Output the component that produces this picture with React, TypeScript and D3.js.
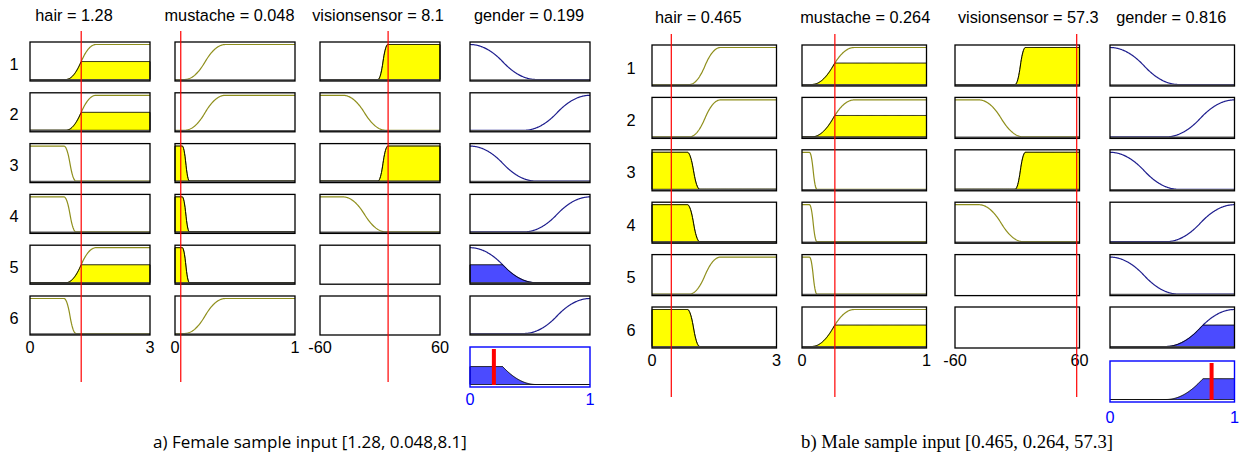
import * as d3 from "d3";

// ---- data ----
const inputNames = ["hair", "mustache", "visionsensor"];
const inputDomains: [number, number][] = [[0, 3], [0, 1], [-60, 60]];
const inputTickLabels = [["0", "3"], ["0", "1"], ["-60", "60"]];
const outputName = "gender";
const outputDomain: [number, number] = [0, 1];
const outputTickLabels = ["0", "1"];

// membership functions: [shape, a, b]  (s = rising, z = falling)
type MF = [string, number, number];
const hairMFs: Record<string, MF> = { long: ["s", 0.9, 1.65], short: ["z", 0.85, 1.15] };
const mustacheMFs: Record<string, MF> = { yes: ["s", 0.08, 0.42], no: ["z", 0.06, 0.12] };
const visionMFs: Record<string, MF> = { high: ["s", -2, 8], low: ["z", -37, 6] };
const genderMFs: Record<string, MF> = { female: ["z", 0, 0.55], male: ["s", 0.45, 1.0] };

const ruleLabels = ["1", "2", "3", "4", "5", "6"];
const ruleHair = ["long", "long", "short", "short", "long", "short"];
const ruleMustache = ["yes", "yes", "no", "no", "no", "yes"];
const ruleVision = ["high", "low", "high", "low", null, null];
const ruleGender = ["female", "male", "female", "male", "female", "male"];

const sampleInputs = [
  [1.28, 0.048, 8.1],
  [0.465, 0.264, 57.3],
];
const sampleOutputs = [0.199, 0.816];
const captions = [
  "a) Female sample input [1.28, 0.048,8.1]",
  "b) Male sample input [0.465, 0.264, 57.3]",
];

// ---- layout ----
const panels = [
  {
    colX: [30, 175, 320, 470], colW: 120, rowTop: 42, pitch: 50.8, boxH: 39,
    outTop: 347, outH: 40, titleY: 21, titleDx: [-16, -5.5, -2, -1],
    redTop: 31, redBottom: 382, tickY: 353, outTickY: 405, rowLabelX: 14,
    captionX: 310, captionFont: "'Open Sans', sans-serif", captionSize: 17,
  },
  {
    colX: [652, 802, 955, 1110], colW: 124.5, rowTop: 45, pitch: 52.4, boxH: 41,
    outTop: 361, outH: 41, titleY: 23, titleDx: [-16, 1, 11, -1],
    redTop: 34, redBottom: 397, tickY: 366, outTickY: 423, rowLabelX: 631,
    captionX: 957, captionFont: "'Liberation Serif', serif", captionSize: 18.7,
  },
];

const OLIVE = "#8f8f1c";
const NAVY = "#1e1e8e";
const BLUE_FILL = "#4b4bff";
const FONT = "'Liberation Sans', Arial, sans-serif";
const FS = 16.3;

function smf(x: number, a: number, b: number) {
  if (x <= a) return 0;
  if (x >= b) return 1;
  const m = (a + b) / 2;
  if (x <= m) return 2 * ((x - a) / (b - a)) ** 2;
  return 1 - 2 * ((x - b) / (b - a)) ** 2;
}
function evalMF(mf: MF, x: number) {
  const v = smf(x, mf[1], mf[2]);
  return mf[0] === "s" ? v : 1 - v;
}

const ruleInputs = [ruleHair, ruleMustache, ruleVision];
const inputMFs = [hairMFs, mustacheMFs, visionMFs];

function Panel({ p, idx }: { p: (typeof panels)[number]; idx: number }) {
  const inputs = sampleInputs[idx];
  const xScales = [...inputDomains, outputDomain].map((dom, c) =>
    d3.scaleLinear().domain(dom).range([p.colX[c], p.colX[c] + p.colW])
  );
  const samples = (dom: [number, number]) =>
    d3.range(0, 241).map((i) => dom[0] + ((dom[1] - dom[0]) * i) / 240);

  const strengths = ruleLabels.map((_, r) => {
    const degs = inputs
      .map((v, c) => {
        const key = ruleInputs[c][r];
        return key ? evalMF(inputMFs[c][key], v) : null;
      })
      .filter((d) => d !== null) as number[];
    return d3.min(degs) ?? 0;
  });

  const cells: JSX.Element[] = [];
  ruleLabels.forEach((lab, r) => {
    const top = p.rowTop + r * p.pitch;
    const y = d3.scaleLinear().domain([0, 1]).range([top + p.boxH - 1.5, top + 2.5]);
    cells.push(
      <text key={`rl${r}`} x={p.rowLabelX} y={top + p.boxH / 2 + 8} fontSize={FS} textAnchor="middle" fontFamily={FONT}>
        {lab}
      </text>
    );
    // inputs
    for (let c = 0; c < 3; c++) {
      const x = xScales[c];
      const key = ruleInputs[c][r];
      const g: JSX.Element[] = [];
      if (key) {
        const mf = inputMFs[c][key];
        const xs = samples(inputDomains[c]);
        const deg = evalMF(mf, inputs[c]);
        const line = d3.line<number>().x((d) => x(d)).y((d) => y(evalMF(mf, d)));
        g.push(<path key="c" d={line(xs) ?? ""} fill="none" stroke={OLIVE} strokeWidth={1.2} />);
        if (deg > 0.001) {
          const area = d3
            .area<number>()
            .x((d) => x(d))
            .y0(y(0))
            .y1((d) => y(Math.min(evalMF(mf, d), deg)));
          g.push(<path key="f" d={area(xs) ?? ""} fill="#ffff00" stroke="#000" strokeWidth={1} />);
        }
        g.push(<line key="b" x1={x.range()[0]} x2={x.range()[1]} y1={y(0) + 0.5} y2={y(0) + 0.5} stroke="#555" strokeWidth={1.6} />);
      }
      cells.push(
        <g key={`in${r}-${c}`}>
          <rect x={x.range()[0]} y={top} width={p.colW} height={p.boxH} fill="#fff" />
          {g}
          <rect x={x.range()[0]} y={top} width={p.colW} height={p.boxH} fill="none" stroke="#000" strokeWidth={1.3} />
        </g>
      );
    }
    // output
    const x = xScales[3];
    const mf = genderMFs[ruleGender[r]];
    const xs = samples(outputDomain);
    const line = d3.line<number>().x((d) => x(d)).y((d) => y(evalMF(mf, d)));
    const s = strengths[r];
    cells.push(
      <g key={`out${r}`}>
        <rect x={x.range()[0]} y={top} width={p.colW} height={p.boxH} fill="#fff" />
        <path d={line(xs) ?? ""} fill="none" stroke={NAVY} strokeWidth={1.2} />
        {s > 0.001 && (
          <path
            d={d3.area<number>().x((d) => x(d)).y0(y(0)).y1((d) => y(Math.min(evalMF(mf, d), s)))(xs) ?? ""}
            fill={BLUE_FILL}
            stroke="#000"
            strokeWidth={1}
          />
        )}
        <line x1={x.range()[0]} x2={x.range()[1]} y1={y(0) + 0.5} y2={y(0) + 0.5} stroke="#555" strokeWidth={1.6} />
        <rect x={x.range()[0]} y={top} width={p.colW} height={p.boxH} fill="none" stroke="#000" strokeWidth={1.3} />
      </g>
    );
  });

  // aggregated output
  const xo = xScales[3];
  const yo = d3.scaleLinear().domain([0, 1]).range([p.outTop + p.outH - 2.5, p.outTop + 2.5]);
  const xsOut = samples(outputDomain);
  const agg = (v: number) =>
    d3.max(ruleLabels.map((_, r) => Math.min(evalMF(genderMFs[ruleGender[r]], v), strengths[r]))) ?? 0;
  const aggArea = d3.area<number>().x((d) => xo(d)).y0(yo(0)).y1((d) => yo(agg(d)));

  return (
    <g>
      {inputNames.map((n, c) => (
        <text key={n} x={p.colX[c] + p.colW / 2 + p.titleDx[c]} y={p.titleY} fontSize={FS} textAnchor="middle" fontFamily={FONT}>
          {`${n} = ${inputs[c]}`}
        </text>
      ))}
      <text x={p.colX[3] + p.colW / 2 + p.titleDx[3]} y={p.titleY} fontSize={FS} textAnchor="middle" fontFamily={FONT}>
        {`${outputName} = ${sampleOutputs[idx]}`}
      </text>
      {cells}
      <g>
        <rect x={xo.range()[0]} y={p.outTop} width={p.colW} height={p.outH} fill="#fff" />
        <path d={aggArea(xsOut) ?? ""} fill={BLUE_FILL} stroke="#000" strokeWidth={1} />
        <line x1={xo(sampleOutputs[idx])} x2={xo(sampleOutputs[idx])} y1={p.outTop + 2} y2={p.outTop + p.outH - 2} stroke="#ff0000" strokeWidth={4} />
        <rect x={xo.range()[0]} y={p.outTop} width={p.colW} height={p.outH} fill="none" stroke="#0000ff" strokeWidth={1.4} />
      </g>
      {inputNames.map((n, c) => (
        <g key={`t${n}`}>
          {inputTickLabels[c].map((t, i) => (
            <text key={t} x={xScales[c].range()[i]} y={p.tickY} fontSize={FS} textAnchor="middle" fontFamily={FONT}>
              {t}
            </text>
          ))}
          <line
            x1={xScales[c](inputs[c])}
            x2={xScales[c](inputs[c])}
            y1={p.redTop}
            y2={p.redBottom}
            stroke="#ff0000"
            strokeWidth={1.2}
          />
        </g>
      ))}
      {outputTickLabels.map((t, i) => (
        <text key={t} x={xo.range()[i]} y={p.outTickY} fontSize={FS} textAnchor="middle" fontFamily={FONT} fill="#0000ff">
          {t}
        </text>
      ))}
      <text x={p.captionX} y={448} fontSize={p.captionSize} textAnchor="middle" fontFamily={p.captionFont}>
        {captions[idx]}
      </text>
    </g>
  );
}

export default function App() {
  return (
    <svg
      width={1239}
      height={459}
      viewBox="0 0 1239 459"
      style={{ position: "absolute", left: 0, top: 0, background: "#fff" }}
    >
      <rect width={1239} height={459} fill="#fff" />
      {panels.map((p, i) => (
        <Panel key={i} p={p} idx={i} />
      ))}
    </svg>
  );
}
